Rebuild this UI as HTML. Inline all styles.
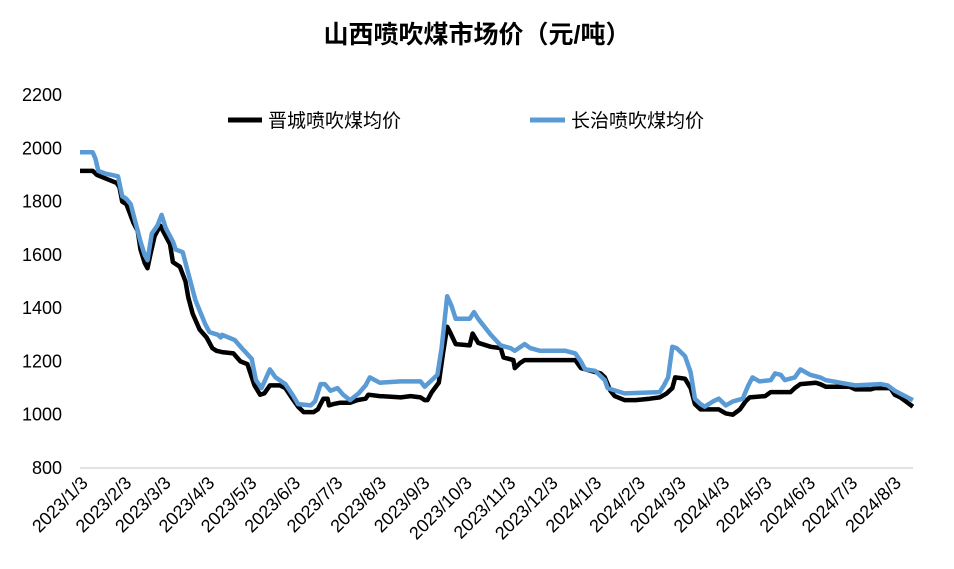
<!DOCTYPE html>
<html><head><meta charset="utf-8"><style>
body{margin:0;background:#fff;font-family:"Liberation Sans","Noto Sans CJK SC",sans-serif;}
svg text{font-family:"Liberation Sans","Noto Sans CJK SC",sans-serif;}
</style></head><body>
<svg id="chart" width="954" height="564">
<text x="477" y="43" text-anchor="middle" font-size="25" font-weight="bold" fill="#000">山西喷吹煤市场价（元/吨）</text>
<g>
<line x1="228" y1="120" x2="262" y2="120" stroke="#000" stroke-width="5"/>
<text x="268" y="127" font-size="19">晋城喷吹煤均价</text>
<line x1="530" y1="120" x2="565" y2="120" stroke="#5b9bd5" stroke-width="5"/>
<text x="571" y="127" font-size="19">长治喷吹煤均价</text>
</g>
<g id="axes"></g>
<g id="series"></g>
</svg>
<script>
const yTicks=[800,1000,1200,1400,1600,1800,2000,2200];
const monthLabels=["2023/1/3","2023/2/3","2023/3/3","2023/4/3","2023/5/3","2023/6/3","2023/7/3","2023/8/3","2023/9/3","2023/10/3","2023/11/3","2023/12/3","2024/1/3","2024/2/3","2024/3/3","2024/4/3","2024/5/3","2024/6/3","2024/7/3","2024/8/3"];
const jcDays=[0,9,12,26,28,30,33,38,41,43,46,48,50,53,57,59,64,66,71,75,77,80,85,90,94,97,101,109,114,119,124,128,131,135,142,146,151,155,159,166,169,173,176,177,180,185,192,197,203,205,213,228,235,242,245,247,250,255,258,261,263,267,277,279,283,292,299,301,308,309,313,316,352,356,363,370,373,377,380,387,395,405,412,417,421,423,430,434,437,441,444,454,459,464,469,473,476,487,491,505,508,512,523,526,530,547,551,562,565,576,579,583,587,592];
const jcValues=[1915,1915,1900,1870,1855,1800,1790,1720,1690,1620,1570,1550,1600,1670,1710,1690,1640,1573,1555,1500,1440,1380,1320,1290,1250,1240,1235,1230,1200,1190,1110,1075,1080,1110,1110,1100,1060,1030,1010,1010,1020,1060,1060,1035,1040,1045,1045,1055,1060,1075,1070,1065,1070,1065,1055,1055,1085,1120,1230,1330,1310,1265,1260,1305,1270,1255,1250,1215,1205,1175,1195,1205,1205,1175,1165,1155,1140,1090,1070,1055,1055,1060,1065,1080,1100,1140,1135,1100,1040,1020,1020,1020,1005,1000,1020,1050,1065,1070,1085,1085,1100,1115,1120,1115,1105,1105,1095,1095,1100,1100,1075,1065,1050,1030];
const czDays=[0,9,11,13,18,27,30,33,36,39,43,46,48,51,55,58,61,66,68,73,77,82,89,92,98,100,101,110,115,122,125,129,135,139,146,151,155,164,167,171,174,178,183,187,192,198,203,206,213,228,242,245,250,254,257,261,264,267,277,280,283,292,299,306,309,316,320,327,345,352,356,359,366,373,375,384,387,412,415,418,421,424,430,434,437,441,444,450,454,459,464,471,475,478,483,491,494,498,501,508,512,519,526,530,551,569,574,579,592];
const czValues=[1985,1985,1960,1915,1905,1895,1820,1810,1790,1730,1650,1600,1580,1680,1710,1750,1700,1650,1620,1610,1530,1430,1340,1310,1300,1290,1300,1280,1250,1210,1130,1100,1170,1140,1115,1075,1040,1035,1050,1115,1115,1090,1100,1075,1055,1080,1110,1140,1120,1125,1125,1105,1130,1150,1250,1445,1410,1360,1360,1385,1360,1300,1260,1250,1240,1265,1250,1240,1240,1230,1200,1170,1165,1130,1100,1085,1080,1085,1110,1140,1255,1250,1220,1160,1060,1040,1030,1050,1060,1035,1050,1060,1110,1140,1125,1130,1155,1150,1130,1140,1170,1150,1140,1130,1110,1115,1110,1090,1055];
const NS="http://www.w3.org/2000/svg";
const X0=80,PXD=1.407,Y0=468,YPV=373/1400;
function xs(d){return X0+d*PXD;}
function ys(v){return Y0-(v-800)*YPV;}
const axes=document.getElementById('axes'),ser=document.getElementById('series');
function mk(t,a,p){const e=document.createElementNS(NS,t);for(const k in a)e.setAttribute(k,a[k]);p.appendChild(e);return e;}
const base=mk('line',{x1:80,y1:Y0,x2:913,y2:Y0,stroke:'#d9d9d9','stroke-width':1.5},axes);


yTicks.forEach(v=>{const t=mk('text',{x:62,y:ys(v)+6,'text-anchor':'end','font-size':18},axes);t.textContent=v;

});
const start=Date.UTC(2023,0,3);
monthLabels.forEach((m,i)=>{const d=(Date.UTC(2023,i,3)-start)/86400000;const x=xs(d)+9;
const t=mk('text',{x:x,y:484,'text-anchor':'end','font-size':18,transform:`rotate(-45 ${x} 484)`},axes);t.textContent=m;

});
function line(days,vals,color,name){const p=days.map((d,i)=>xs(d).toFixed(1)+','+ys(vals[i]).toFixed(1)).join(' ');
const e=mk('polyline',{points:p,fill:'none',stroke:color,'stroke-width':4.5,'stroke-linejoin':'round'},ser);

}
line(jcDays,jcValues,'#000','jincheng-line');
line(czDays,czValues,'#5b9bd5','changzhi-line');
</script>
</body></html>
